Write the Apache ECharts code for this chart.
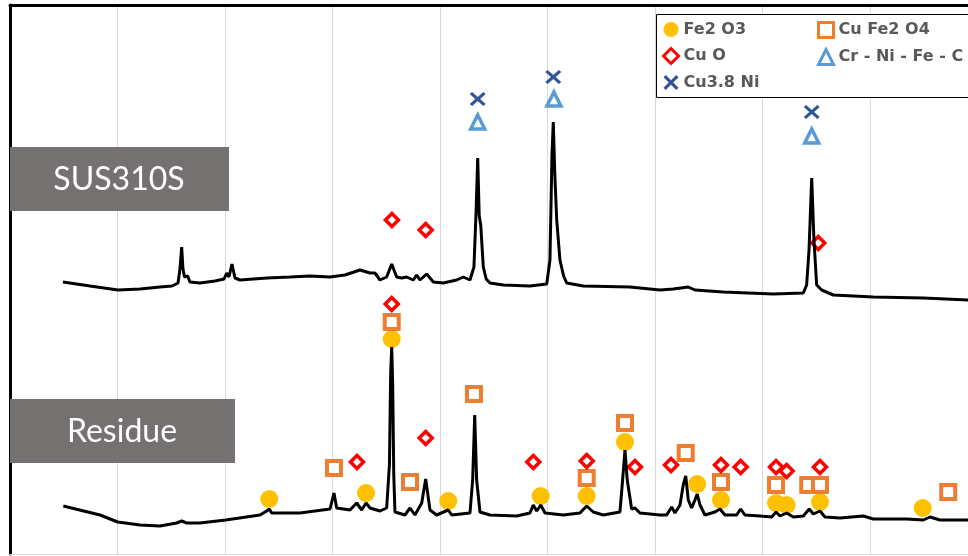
<!DOCTYPE html>
<html>
<head>
<meta charset="utf-8">
<script src="https://cdn.jsdelivr.net/npm/echarts@6/dist/echarts.min.js"></script>
<style>
  html, body { margin: 0; padding: 0; background: #fff; }
  #chart { width: 968px; height: 556px; }
</style>
</head>
<body>
<div id="chart"></div>
<script>
// 2theta (deg) and stacked intensity (a.u.)
const sus310sTwoTheta = [4.93, 7.44, 10.05, 12.09, 13.95, 15.07, 15.63, 15.81, 15.97, 16.09, 16.23, 16.37, 16.53, 16.74, 17.67,
    19.07, 19.91, 20.16, 20.37, 20.65, 20.93, 21.40, 23.91, 26.05, 27.91, 29.77, 31.16, 32.56, 33.49, 33.95, 34.42,
    35.04, 35.51, 35.97, 36.44, 36.90, 37.52, 37.83, 38.14, 38.76, 39.38, 40.31, 41.55, 42.17, 42.79, 43.16, 43.35,
    43.51, 43.65, 43.79, 44.03, 44.30, 44.65, 45.89, 48.37, 49.93, 50.23, 50.42, 50.54, 50.68, 50.86, 51.16, 51.50,
    51.79, 53.33, 57.67, 60.47, 61.70, 63.10, 63.72, 66.35, 71.00, 73.80, 74.11, 74.33, 74.58, 74.79, 75.04, 75.51,
    76.59, 80.31, 84.96, 89.12, 90];
const sus310sIntensity = [272, 268, 264, 265, 267, 268, 271, 285, 307, 285, 277, 275, 278, 272, 271,
    273, 275, 281, 277, 290, 276, 274, 276, 277, 278, 277, 279, 284, 281, 281, 274,
    277, 290, 277, 276, 277, 274, 279, 274, 280, 272, 271, 274, 277, 274, 287, 340,
    396, 338, 329, 287, 275, 271, 269, 268, 270, 294, 400, 432, 380, 334, 294, 278,
    271, 268, 267, 264, 265, 267, 264, 262, 260, 261, 269, 304, 376, 314, 269, 264,
    259, 257, 256, 254, 254];

const residueTwoTheta = [4.96, 8.37, 10.02, 12.09, 13.95, 15.51, 15.97, 16.44, 17.67, 20.07, 23.26, 23.88, 24.12, 24.34,
    26.98, 29.77, 30.14, 30.39, 31.63, 32.25, 32.72, 33.12, 33.49, 34.42, 35.04, 35.30, 35.41, 35.51, 35.60, 35.70,
    35.81, 36.74, 37.21, 37.67, 38.30, 38.67, 39.07, 39.69, 40.77, 41.09, 42.79, 43.04, 43.23, 43.41, 43.72, 44.65,
    47.13, 48.37, 48.68, 49.00, 49.37, 49.77, 51.47, 53.02, 53.65, 54.26, 55.19, 56.74, 56.99, 57.21, 57.42, 57.83,
    58.14, 58.60, 60.47, 61.09, 61.55, 61.86, 62.33, 62.63, 62.86, 63.10, 63.41, 63.72, 63.93, 64.19, 64.65, 65.58,
    66.05, 66.51, 67.60, 67.97, 68.37, 69.77, 70.86, 71.26, 71.63, 72.25, 72.87, 73.80, 74.35, 74.73, 75.35, 75.81,
    77.21, 79.38, 80.31, 83.41, 84.96, 85.58, 86.51, 89.12, 90];
const residueIntensity = [48, 39, 32, 29, 28, 31, 33, 31, 31, 34, 39, 43, 45, 41,
    41, 45, 61, 46, 44, 51, 44, 51, 46, 43, 46, 90, 180, 207, 170, 80,
    42, 39, 46, 39, 51, 75, 44, 39, 44, 39, 41, 74, 139, 74, 42, 39,
    38, 41, 49, 43, 49, 41, 39, 41, 48, 42, 39, 42, 74, 104, 74, 45,
    46, 41, 39, 39, 47, 41, 49, 69, 78, 54, 46, 54, 60, 49, 39, 42,
    45, 39, 39, 45, 39, 38, 37, 42, 38, 41, 37, 38, 45, 40, 43, 37,
    36, 38, 35, 35, 34, 37, 34, 34, 34];

// phase markers: 2theta and height
const fe2o3TwoTheta = [24.12, 33.12, 35.51, 40.77, 49.37, 53.65, 57.21, 63.93, 66.14, 71.26, 72.25, 75.35, 84.90];
const fe2o3Height = [55, 61, 215, 53, 58, 58, 112, 70, 54, 51, 49, 52, 46];
const cuFe2o4TwoTheta = [30.14, 35.51, 37.21, 43.16, 53.65, 57.21, 62.86, 66.14, 71.26, 74.26, 75.35, 87.28];
const cuFe2o4Height = [86, 232, 72, 160, 76, 131, 101, 72, 69, 69, 69, 62];
const cuoTwoTheta = [35.53, 38.67, 75.19, 35.51, 32.28, 38.67, 48.68, 53.65, 58.14, 61.49, 66.14, 67.97, 71.26, 72.25, 75.35];
const cuoHeight = [334, 324, 311, 250, 92, 116, 92, 93, 87, 89, 89, 87, 87, 83, 87];
const crNiFeCTwoTheta = [43.51, 50.60, 74.58];
const crNiFeCHeight = [432, 455, 418];
const cu38NiTwoTheta = [43.51, 50.54, 74.58];
const cu38NiHeight = [455, 477, 442];

const pairs = (xs, ys) => xs.map((x, i) => [x, ys[i]]);

const crossPath = 'path://M1.5,0 L5,3.5 L8.5,0 L10,1.5 L6.5,5 L10,8.5 L8.5,10 L5,6.5 L1.5,10 L0,8.5 L3.5,5 L0,1.5 Z';

const chart = echarts.init(document.getElementById('chart'));
const legendText = {
    color: '#595959',
    fontFamily: 'DejaVu Sans',
    fontWeight: 'bold',
    fontSize: 16,
    lineHeight: 17
};
const option = {
    animation: false,
    backgroundColor: '#fff',
    grid: {
        left: 10,
        top: 5,
        right: 0,
        height: 549
    },
    xAxis: [
        {
            type: 'value',
            min: 0,
            max: 89.12,
            interval: 10,
            axisLine: { show: true, lineStyle: { color: '#d9d9d9', width: 1 } },
            axisTick: { show: false },
            axisLabel: { show: false },
            splitLine: { show: true, showMaxLine: false, lineStyle: { color: '#d9d9d9', width: 1 } }
        },
        {
            type: 'value',
            position: 'top',
            min: 0,
            max: 89.12,
            axisLine: { show: true, lineStyle: { color: '#000', width: 3 } },
            axisTick: { show: false },
            axisLabel: { show: false },
            splitLine: { show: false }
        }
    ],
    yAxis: {
        type: 'value',
        min: 0,
        max: 549,
        axisLine: { show: true, lineStyle: { color: '#000', width: 3 } },
        axisTick: { show: false },
        axisLabel: { show: false },
        splitLine: { show: false }
    },
    legend: [
        {
            orient: 'vertical',
            left: 662,
            top: 21,
            padding: 0,
            itemWidth: 15,
            itemHeight: 15,
            itemGap: 9,
            textStyle: legendText,
            data: [
                'Fe2 O3',
                { name: 'Cu O', itemStyle: { borderWidth: 3 } },
                'Cu3.8 Ni'
            ]
        },
        {
            orient: 'vertical',
            left: 817,
            top: 21,
            padding: 0,
            itemWidth: 15,
            itemHeight: 15,
            itemGap: 9,
            textStyle: legendText,
            data: [
                { name: 'Cu Fe2 O4', itemStyle: { borderWidth: 3 } },
                { name: 'Cr - Ni - Fe - C', itemStyle: { borderWidth: 3 } }
            ]
        }
    ],
    graphic: [
        {
            type: 'rect',
            z: 3,
            shape: { x: 656.5, y: 14.5, width: 330, height: 83 },
            style: { fill: '#fff', stroke: '#000', lineWidth: 1 }
        },
        {
            type: 'rect',
            z: 3,
            shape: { x: 10, y: 147, width: 219, height: 64 },
            style: { fill: '#767171' }
        },
        {
            type: 'text',
            z: 4,
            x: 119,
            y: 180,
            style: {
                text: 'SUS310S',
                fill: '#fff',
                font: '32px Lato',
                textAlign: 'center',
                textVerticalAlign: 'middle'
            }
        },
        {
            type: 'rect',
            z: 3,
            shape: { x: 10, y: 399, width: 225, height: 64 },
            style: { fill: '#767171' }
        },
        {
            type: 'text',
            z: 4,
            x: 122,
            y: 432,
            style: {
                text: 'Residue',
                fill: '#fff',
                font: '32px Lato',
                textAlign: 'center',
                textVerticalAlign: 'middle'
            }
        }
    ],
    series: [
        {
            name: 'SUS310S',
            type: 'line',
            showSymbol: false,
            sampling: 'none',
            lineStyle: { color: '#000', width: 3 },
            data: pairs(sus310sTwoTheta, sus310sIntensity)
        },
        {
            name: 'Residue',
            type: 'line',
            showSymbol: false,
            sampling: 'none',
            lineStyle: { color: '#000', width: 3 },
            data: pairs(residueTwoTheta, residueIntensity)
        },
        {
            name: 'Fe2 O3',
            type: 'scatter',
            symbol: 'circle',
            symbolSize: 18,
            itemStyle: { color: '#FFC000', opacity: 1 },
            data: pairs(fe2o3TwoTheta, fe2o3Height)
        },
        {
            name: 'Cu Fe2 O4',
            type: 'scatter',
            symbol: 'rect',
            symbolSize: 14,
            itemStyle: { color: '#fff', borderColor: '#ED7D31', borderWidth: 4, opacity: 1 },
            data: pairs(cuFe2o4TwoTheta, cuFe2o4Height)
        },
        {
            name: 'Cu O',
            type: 'scatter',
            symbol: 'diamond',
            symbolSize: 13,
            itemStyle: { color: '#fff', borderColor: '#FF0000', borderWidth: 3.5, opacity: 1 },
            data: pairs(cuoTwoTheta, cuoHeight)
        },
        {
            name: 'Cr - Ni - Fe - C',
            type: 'scatter',
            symbol: 'triangle',
            symbolSize: 14,
            itemStyle: { color: '#fff', borderColor: '#5B9BD5', borderWidth: 3.5, opacity: 1 },
            data: pairs(crNiFeCTwoTheta, crNiFeCHeight)
        },
        {
            name: 'Cu3.8 Ni',
            type: 'scatter',
            symbol: crossPath,
            symbolSize: [16, 14],
            itemStyle: { color: '#2F5597', opacity: 1 },
            data: pairs(cu38NiTwoTheta, cu38NiHeight)
        }
    ]
};
chart.setOption(option);
</script>
</body>
</html>
